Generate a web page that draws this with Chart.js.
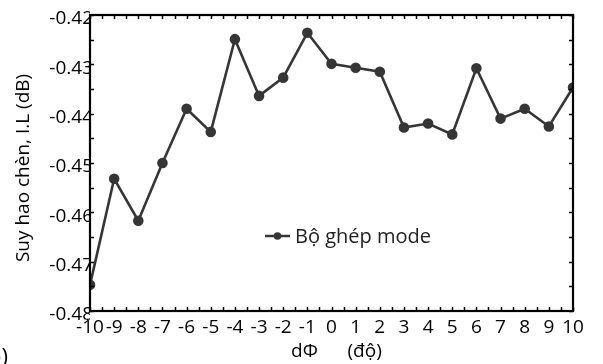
<!DOCTYPE html>
<html>
<head>
<meta charset="utf-8">
<script src="https://cdn.jsdelivr.net/npm/chart.js@4/dist/chart.umd.min.js"></script>
<style>
  html, body { margin: 0; padding: 0; background: #fff; }
  #wrap { width: 603px; height: 364px; position: relative; }
</style>
</head>
<body>
<div id="wrap"><canvas id="c" width="603" height="364"></canvas></div>
<script>
const phaseDeg = [-10, -9, -8, -7, -6, -5, -4, -3, -2, -1, 0, 1, 2, 3, 4, 5, 6, 7, 8, 9, 10];
const insertionLoss = [-0.4747, -0.4532, -0.4617, -0.4500, -0.4390, -0.4437, -0.4249, -0.4364, -0.4327, -0.4236, -0.4299, -0.4307, -0.4315, -0.4428, -0.4420, -0.4442, -0.4308, -0.4410, -0.4390, -0.4426, -0.4347];
const seriesLabel = 'Bộ ghép mode';
const xTicks = [-10, -9, -8, -7, -6, -5, -4, -3, -2, -1, 0, 1, 2, 3, 4, 5, 6, 7, 8, 9, 10];
const yTicks = [-0.48, -0.47, -0.46, -0.45, -0.44, -0.43, -0.42];
const xTitle = '  dΦ      (độ)';
const yTitle = 'Suy hao chèn, I.L (dB)  ';

const FONT = "'Open Sans', sans-serif";
const LINE = '#363636';

const boxTicks = {
  id: 'boxTicks',
  afterDraw(chart) {
    const {ctx, chartArea: a, scales: {x, y}} = chart;
    ctx.save();
    ctx.strokeStyle = '#000';
    ctx.lineWidth = 1.5;
    const L = 4;
    ctx.beginPath();
    for (let v = -10; v <= 10.001; v += 0.5) {
      const px = Math.round(x.getPixelForValue(v)) + 0.5;
      ctx.moveTo(px, a.bottom); ctx.lineTo(px, a.bottom - L);
      ctx.moveTo(px, a.top); ctx.lineTo(px, a.top + L);
    }
    for (let v = -0.48; v <= -0.4199; v += 0.005) {
      const py = Math.round(y.getPixelForValue(v)) + 0.5;
      ctx.moveTo(a.left, py); ctx.lineTo(a.left + L, py);
      ctx.moveTo(a.right, py); ctx.lineTo(a.right - L, py);
    }
    ctx.stroke();
    ctx.lineWidth = 2.2;
    ctx.strokeRect(a.left, a.top, a.right - a.left, a.bottom - a.top);

    // legend
    const lx = 265, ly = 236;
    ctx.strokeStyle = LINE; ctx.lineWidth = 2.5;
    ctx.beginPath(); ctx.moveTo(lx, ly); ctx.lineTo(lx + 25, ly); ctx.stroke();
    ctx.fillStyle = LINE;
    ctx.beginPath(); ctx.arc(lx + 12.5, ly, 3.8, 0, Math.PI * 2); ctx.fill();
    ctx.fillStyle = '#222';
    ctx.font = '20px ' + FONT;
    ctx.textBaseline = 'middle'; ctx.textAlign = 'left';
    ctx.fillText(chart.data.datasets[0].label, lx + 30, ly + 1);

    // clipped panel label
    ctx.fillStyle = '#000';
    ctx.font = '22px ' + FONT;
    ctx.textAlign = 'right';
    ctx.fillText('(b)', 8, 358);
    ctx.restore();
  }
};

new Chart(document.getElementById('c'), {
  type: 'line',
  data: {
    datasets: [{
      label: seriesLabel,
      data: phaseDeg.map((v, i) => ({x: v, y: insertionLoss[i]})),
      borderColor: LINE,
      backgroundColor: LINE,
      borderWidth: 2.6,
      pointRadius: 4,
      pointHoverRadius: 4,
      tension: 0
    }]
  },
  options: {
    responsive: false,
    animation: false,
    layout: { padding: { left: 0, right: 30, top: 15, bottom: 0 } },
    plugins: { legend: { display: false }, tooltip: { enabled: false } },
    scales: {
      x: {
        type: 'linear', min: -10, max: 10,
        afterFit(s) { s.height = 53; },
        afterBuildTicks(s) { s.ticks = xTicks.map(v => ({value: v})); },
        grid: { display: false, drawTicks: false },
        border: { display: false },
        ticks: { color: '#000', padding: 5, maxRotation: 0, autoSkip: false,
                 font: { family: FONT, size: 19 }, callback: v => String(v) },
        title: { display: true, text: xTitle, color: '#000',
                 font: { family: FONT, size: 19 }, padding: { top: 0, bottom: 1 } }
      },
      y: {
        type: 'linear', min: -0.48, max: -0.42,
        afterFit(s) { s.width = 90; },
        afterBuildTicks(s) { s.ticks = yTicks.map(v => ({value: v})); },
        grid: { display: false, drawTicks: false },
        border: { display: false },
        ticks: { color: '#000', padding: -3, autoSkip: false, labelOffset: 4,
                 font: { family: FONT, size: 19 },
                 callback: v => String(Math.round(v * 100) / 100) },
        title: { display: true, text: yTitle, color: '#000',
                 font: { family: FONT, size: 19 }, padding: { top: 12, bottom: 0 } }
      }
    }
  },
  plugins: [boxTicks]
});
</script>
</body>
</html>
